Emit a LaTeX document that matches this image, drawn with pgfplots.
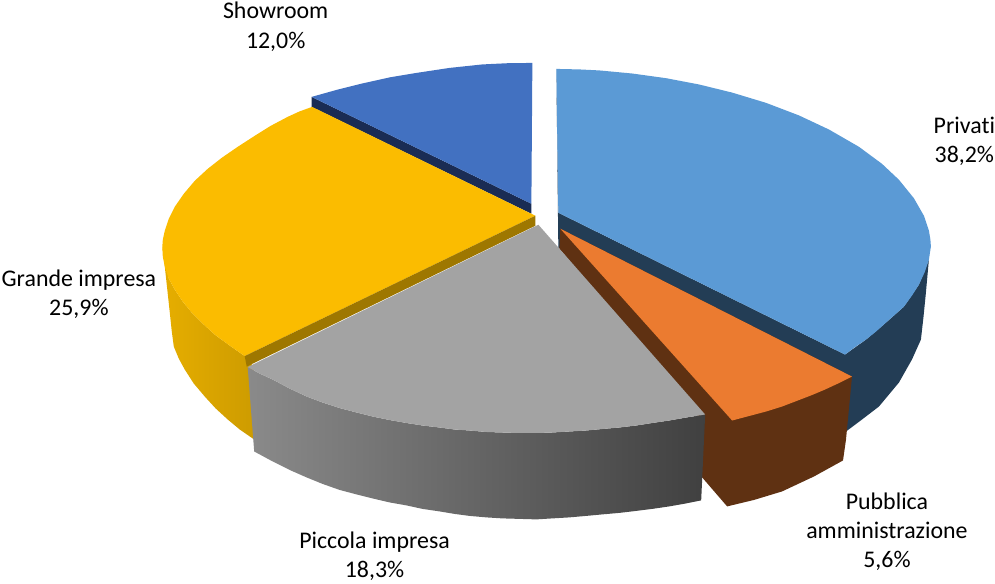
\documentclass[border=0pt]{standalone}
\usepackage{pgfplots}
\pgfplotsset{compat=1.18}
\usepackage{fontspec}
\setmainfont[Ligatures=NoCommon]{Carlito}
\definecolor{cblue}{HTML}{5B9AD5}
\definecolor{cbluedk}{HTML}{233D55}
\definecolor{corange}{HTML}{EB7B30}
\definecolor{cbrown}{HTML}{5F3112}
\definecolor{cgrey}{HTML}{A3A3A3}
\definecolor{cyellow}{HTML}{FBBC00}
\definecolor{cyelldk}{HTML}{9E7700}
\definecolor{cshow}{HTML}{4271C1}
\definecolor{cshowdk}{HTML}{1A2C54}
\begin{document}
\begin{tikzpicture}
\begin{axis}[
  scale only axis, width=995bp, height=584bp,
  xmin=0, xmax=995, ymin=0, ymax=584, y dir=reverse,
  axis lines=none, clip=false,
  every axis plot/.append style={draw=none, line width=0pt},
]
\path (axis cs:0,0) (axis cs:995,584);
% Privati: side
\addplot[fill=cbluedk] coordinates {(557,69)(559,213)(846,355)(867,340)(887,323)(905,307)(920,285)(930,260)(927,293)(924.5,318)(922,340)(913,360)(900,383)(880,407)(863,420)(847,432)(846,376)(559,248)} --cycle;
% Pubblica amministrazione: side
\addplot[fill=cbrown] coordinates {(561,229)(853,377)(847,440)(844,461)(815,477)(783,492)(755,500.5)(728,507)(703,478)(695,478)(698,412)(560,249)} --cycle;
% Pubblica amministrazione: top
\addplot[fill=corange] coordinates {(561,229)(853,377)(840,383.5)(826,390)(813,395.5)(800,400.5)(783,407)(767,412)(750,416.5)(733,421)} --cycle;
% Privati: top
\addplot[fill=cblue] coordinates {(559,213)(557,69)(580,69.5)(600,70.5)(633,73.6)(667,78.3)(700,84.6)(733,92.7)(767,103)(800,115.6)(830,129.7)(860,147)(883,164)(900,180)(915,198.5)(925,216)(930,231)(931.5,240)(932,247)(931.5,250)(930,260)(926,272)(920,285)(913,296)(905,307)(896,315)(887,323)(877,332)(867,340)(856,347.5)(846,355)} --cycle;
% Showroom
\addplot[fill=cshowdk] coordinates {(312,97)(312,107)(532,214)(532,204)} --cycle;
\addplot[fill=cshow] coordinates {(532,204)(533,63)(508,63.3)(483,64.5)(450,68)(417,73)(390,77.5)(363,83.5)(337,90)(312,97)} --cycle;
% Grande impresa: side
\addplot[left color={rgb,255:red,230;green,174;blue,0}, right color={rgb,255:red,204;green,155;blue,0}, middle color={rgb,255:red,217;green,164;blue,0}] coordinates {(162.5,247)(165,267)(167.5,290)(170,313)(172,332)(174,347)(179,359)(185,370)(194,384)(205,397)(216,409)(228,420)(240,430)(253,439)(259,443)(254,367)(245,356.5)(230,346)(215,335)(203,324)(192,313)(183,302)(175,290)(169,279)} --cycle;
% Grande impresa: top
\addplot[fill=cyellow] coordinates {(536,216)(312.5,107)(300,111.5)(288,117)(271,126)(255,136)(238,147)(222,158)(208,169)(195,181)(184,194)(175,207)(169,219)(165,231)(163,240)(162.5,247)(163,257)(165,267)(169,279)(175,290)(183,302)(192,313)(203,324)(215,335)(230,346)(245,356.5)} --cycle;
\addplot[fill=cyelldk] coordinates {(536,216)(536,226)(247,367)(245,356.5)} --cycle;
% Piccola impresa: side
\addplot[left color={rgb,255:red,138;green,138;blue,138}, right color={rgb,255:red,64;green,64;blue,64}, middle color={rgb,255:red,101;green,101;blue,101}] coordinates {(248,367.5)(254.5,452)(273,462)(290,470.5)(307,478)(323,484.5)(340,490.5)(357,495)(373,499)(390,503)(407,506)(423,509.5)(440,512)(455,514.5)(470,516.5)(487,518)(503,519)(520,519.5)(537,520)(553,519)(570,518)(587,516.5)(603,515)(620,513.5)(637,511.5)(653,509.5)(670,507)(687,504)(702,501)(706,415)(687,418)(670,421)(653,423.5)(637,426)(620,428)(603,429.5)(587,431)(570,432)(553,433)(537,433.5)(520,433.5)(503,433)(487,432.5)(470,431)(455,430)(440,428)(423,426)(407,423.5)(390,420.5)(373,417)(357,413)(340,408.5)(323,403)(307,397)(290,389)(273,380)(260,374)} --cycle;
% Piccola impresa: top
\addplot[fill=cgrey] coordinates {(539,225)(706,415)(687,418)(670,421)(653,423.5)(637,426)(620,428)(603,429.5)(587,431)(570,432)(553,433)(537,433.5)(520,433.5)(503,433)(487,432.5)(470,431)(455,430)(440,428)(423,426)(407,423.5)(390,420.5)(373,417)(357,413)(340,408.5)(323,403)(307,397)(290,389)(273,380)(260,374)(248,367.5)} --cycle;
% Labels
\begin{scope}[every node/.style={anchor=base, inner sep=0pt, font=\fontsize{24}{29}\selectfont, text=black}]
\node at (axis cs:276,19) {Showroom};
\node at (axis cs:276,49) {12,0\%};
\node at (axis cs:965.5,134) {Privati};
\node at (axis cs:965.5,163) {38,2\%};
\node at (axis cs:79,287) {Grande impresa};
\node at (axis cs:79,316) {25,9\%};
\node at (axis cs:375,549) {Piccola impresa};
\node at (axis cs:375,578) {18,3\%};
\node at (axis cs:888,510) {Pubblica};
\node at (axis cs:888,539) {amministrazione};
\node at (axis cs:888,568) {5,6\%};
\end{scope}
\end{axis}
\end{tikzpicture}
\end{document}
